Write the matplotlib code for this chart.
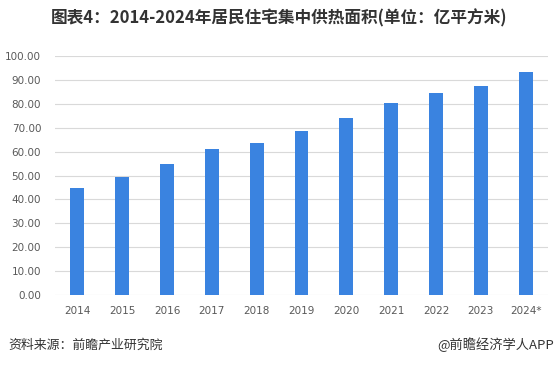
import matplotlib.pyplot as plt
import numpy as np

plt.rcParams['font.family'] = ['Noto Sans CJK SC', 'DejaVu Sans']

years = ['2014', '2015', '2016', '2017', '2018', '2019', '2020', '2021', '2022', '2023', '2024*']
area = [44.9, 49.5, 54.9, 61.1, 63.6, 68.7, 74.1, 80.3, 84.5, 87.4, 93.3]
yticks = np.arange(0, 101, 10)

fig = plt.figure(figsize=(5.58, 3.66), dpi=100)
ax = fig.add_axes([55/558, 71/366, 493/558, 239/366])

x = np.arange(len(years))
ax.bar(x, area, width=0.31, color='#3a83e0', zorder=3)

ax.set_xlim(-0.5, len(years) - 0.5)
ax.set_ylim(0, 100)
ax.set_yticks(yticks)
ax.set_yticklabels(['%.2f' % v for v in yticks], family='DejaVu Sans', fontsize=7.5, color='#595959')
ax.set_xticks(x)
ax.set_xticklabels(years, family='DejaVu Sans', fontsize=7.5, color='#595959')
ax.tick_params(axis='both', length=0)
ax.tick_params(axis='y', pad=10)
ax.tick_params(axis='x', pad=8)
ax.grid(axis='y', color='#d9d9d9', linewidth=0.8, zorder=0)
for s in ax.spines.values():
  s.set_visible(False)

fig.text(279/558, 1 - 18/366, '图表4：2014-2024年居民住宅集中供热面积(单位：亿平方米)',
         ha='center', va='center', fontsize=12, fontweight='bold', color='#333333')
fig.text(8/558, 1 - 345/366, '资料来源：前瞻产业研究院', ha='left', va='center',
         fontsize=9.3, color='#333333')
fig.text(554/558, 1 - 345/366, '@前瞻经济学人APP', ha='right', va='center',
         fontsize=9.5, color='#333333')

fig.savefig('out.png', dpi=100)
